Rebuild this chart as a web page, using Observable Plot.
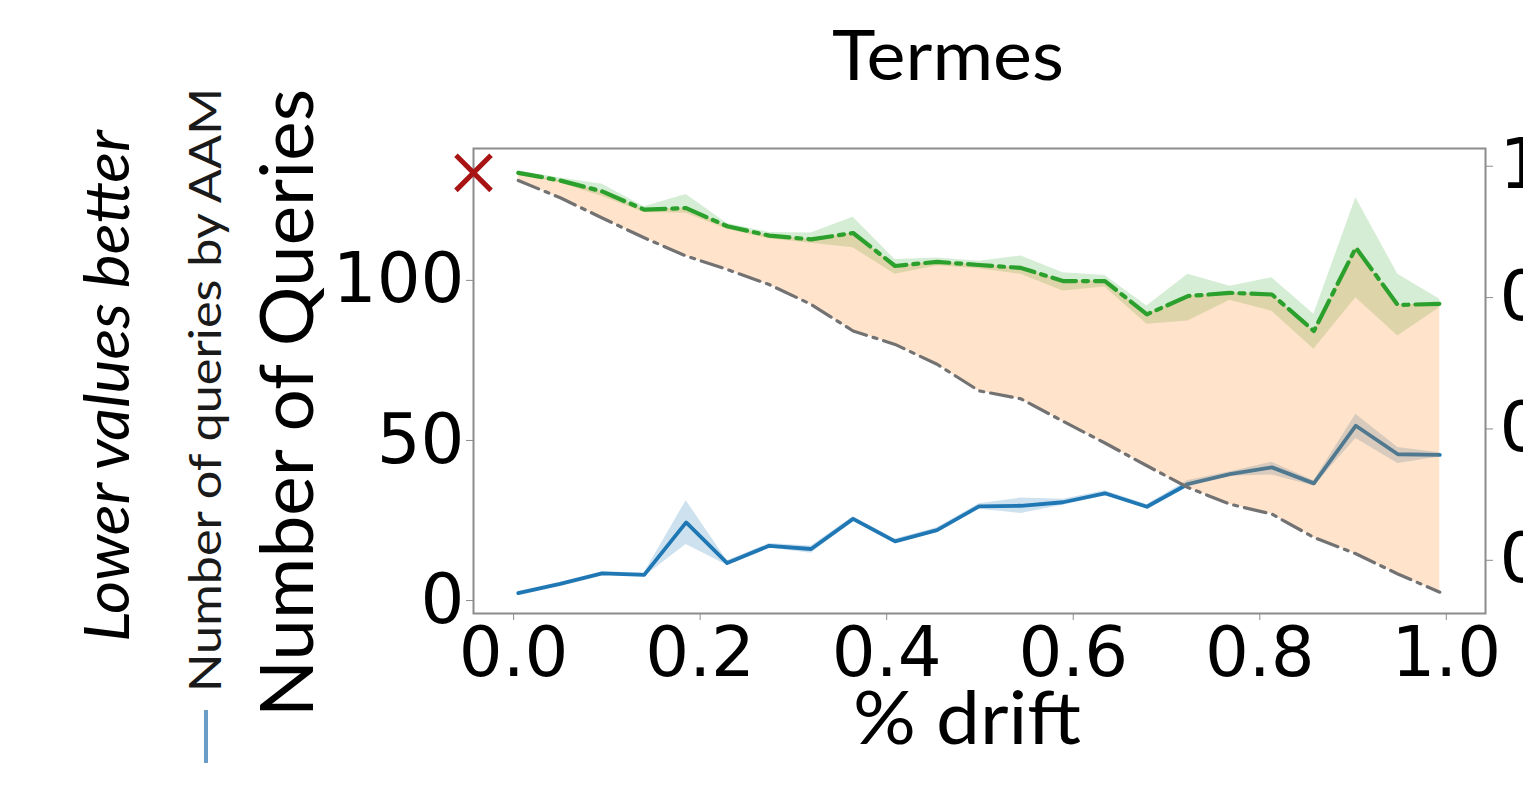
<!DOCTYPE html>
<html><head><meta charset="utf-8">
<script src="https://cdn.jsdelivr.net/npm/d3@7"></script>
<script src="https://cdn.jsdelivr.net/npm/@observablehq/plot@0.6"></script>
<style>html,body{margin:0;padding:0;background:#fff;overflow:hidden;width:1523px;height:792px}
#chart svg{max-width:none !important;width:1600px;height:792px;display:block}</style>
</head><body><div id="chart"></div>
<script>
// % drift positions of the samples
const drift = [0.005, 0.050, 0.095, 0.140, 0.185, 0.229, 0.274, 0.319, 0.364, 0.409, 0.454, 0.499, 0.544, 0.589, 0.634, 0.679, 0.723, 0.768, 0.813, 0.858, 0.903, 0.948, 0.993];
// Number of queries by AAM (blue)
const aam   = [2.3, 5.2, 8.5, 8.0, 24.4, 11.7, 17.1, 16.1, 25.5, 18.5, 22.0, 29.4, 29.6, 30.7, 33.5, 29.3, 36.4, 39.5, 41.6, 36.6, 54.6, 45.7, 45.5];
const aamLo = [1.8, 4.7, 8.0, 7.4, 17.5, 11.0, 16.4, 14.8, 24.8, 17.8, 21.3, 28.6, 27.2, 29.8, 32.7, 28.6, 35.4, 38.8, 39.2, 35.8, 50.6, 42.8, 44.8];
const aamHi = [2.8, 5.7, 9.0, 8.6, 31.2, 12.4, 17.8, 17.0, 26.2, 19.2, 22.7, 30.2, 32.0, 31.6, 34.3, 30.0, 37.5, 40.2, 43.2, 37.4, 58.2, 47.8, 46.2];
// green dash-dot series
const green   = [133.6, 131.2, 127.8, 122.1, 122.6, 116.9, 114.0, 112.8, 114.8, 104.5, 105.8, 104.8, 103.9, 99.8, 99.8, 89.4, 95.1, 96.1, 95.6, 84.2, 110.2, 92.3, 92.7];
const greenLo = [133.0, 130.4, 126.2, 121.2, 121.0, 116.0, 113.0, 111.6, 110.2, 101.9, 104.6, 103.6, 101.9, 96.7, 97.9, 86.3, 87.3, 93.8, 90.4, 78.5, 94.6, 82.6, 91.5];
const greenHi = [134.2, 132.0, 130.0, 123.0, 126.8, 117.8, 115.0, 114.8, 119.7, 106.5, 107.0, 106.0, 107.6, 102.4, 101.5, 92.0, 101.9, 98.2, 100.8, 89.4, 125.8, 101.9, 94.1];
// grey dash-dot series
const grey = [131.2, 125.8, 119.5, 113.3, 107.6, 103.4, 98.7, 92.5, 84.2, 80.0, 73.8, 65.5, 63.0, 56.0, 49.2, 42.1, 35.3, 30.1, 27.0, 19.7, 14.6, 8.3, 2.6];
// red cross marker
const crossX = [-0.043];
const crossY = [133.6];
// axes
const xDomain = [-0.043, 1.042];
const yDomain = [-4.05, 141.2];
const rightDomain = [0.319, 1.027];
const xTicks = [0, 0.2, 0.4, 0.6, 0.8, 1.0];
const leftTicks = [0, 50, 100];
const rightTicks = [1.0, 0.8, 0.6, 0.4];

const rows = drift.map((x, i) => ({x, aam: aam[i], aamLo: aamLo[i], aamHi: aamHi[i],
  green: green[i], greenLo: greenLo[i], greenHi: greenHi[i], grey: grey[i]}));
const cross = crossX.map((x, i) => ({x, y: crossY[i]}));
const toLeft = d3.scaleLinear().domain(rightDomain).range(yDomain);

const chart = Plot.plot({
  width: 1600, height: 792,
  marginLeft: 473, marginRight: 115, marginTop: 148, marginBottom: 179,
  style: {background: "white", maxWidth: "none"},
  x: {domain: xDomain},
  y: {domain: yDomain},
  marks: [
    Plot.areaY(rows, {x: "x", y1: "aamLo", y2: "aamHi", fill: "#1f77b4", fillOpacity: 0.22}),
    Plot.lineY(rows, {x: "x", y: "aam", stroke: "#1f77b4", strokeWidth: 3.8}),
    Plot.areaY(rows, {x: "x", y1: "greenLo", y2: "greenHi", fill: "#2ca02c", fillOpacity: 0.2}),
    Plot.areaY(rows, {x: "x", y1: "grey", y2: "green", fill: "#ff7f0e", fillOpacity: 0.22}),
    Plot.lineY(rows, {x: "x", y: "grey", stroke: "#727272", strokeWidth: 3.2, strokeDasharray: "22,7,4,7"}),
    Plot.lineY(rows, {x: "x", y: "green", stroke: "#2ca02c", strokeWidth: 4.2, strokeDasharray: "24,7,5,7"}),
    Plot.frame({stroke: "#8c8c8c", strokeWidth: 2}),
    Plot.axisY({ticks: leftTicks, tickSize: 7, tickPadding: 2, stroke: "#8c8c8c", color: "black", fill: "black",
      fontSize: 69, fontFamily: "DejaVu Sans", tickFormat: d => String(d), label: null}),
    Plot.axisY({anchor: "right", ticks: rightTicks.map(toLeft), tickSize: 7, tickPadding: 7, stroke: "#8c8c8c",
      color: "black", fill: "black", fontSize: 69, fontFamily: "DejaVu Sans",
      tickFormat: d => d3.format(".1f")(toLeft.invert(d)), label: null}),
    Plot.axisX({ticks: xTicks, tickSize: 7, tickPadding: 6, stroke: "#8c8c8c", color: "black", fill: "black",
      fontSize: 69, fontFamily: "DejaVu Sans", tickFormat: d3.format(".1f"), label: null}),
    Plot.dot(cross, {x: "x", y: "y", symbol: "times", r: 16, stroke: "#a81414", strokeWidth: 5, clip: false})
  ]
});
chart.style.maxWidth = "none";
document.getElementById("chart").appendChild(chart);

const svg = d3.select(chart);
function addText(str, o) {
  const t = svg.append("text")
    .attr("transform", `translate(${o.x},${o.y}) rotate(${o.rotate || 0})`)
    .attr("text-anchor", "middle")
    .attr("font-family", o.family || "Lato")
    .attr("font-size", o.size)
    .attr("font-style", o.style || "normal")
    .attr("fill", o.fill || "black")
    .text(str);
  if (o.length) t.attr("textLength", o.length).attr("lengthAdjust", "spacingAndGlyphs");
  return t;
}
addText("Termes", {x: 948, y: 80, size: 70, length: 232});
addText("% drift", {x: 967, y: 744, size: 74, length: 228});
addText("Number of Queries", {x: 313, y: 403, rotate: -90, size: 74, length: 628});
addText("Number of queries by AAM", {x: 221, y: 390, rotate: -90, size: 44, fill: "#1a1a1a", length: 604});
addText("Lower values better", {x: 129, y: 386, rotate: -90, size: 62, style: "italic", length: 512});
svg.append("line").attr("x1", 206).attr("x2", 206).attr("y1", 710).attr("y2", 763)
  .attr("stroke", "#6b9dc6").attr("stroke-width", 4);
</script>
</body></html>
